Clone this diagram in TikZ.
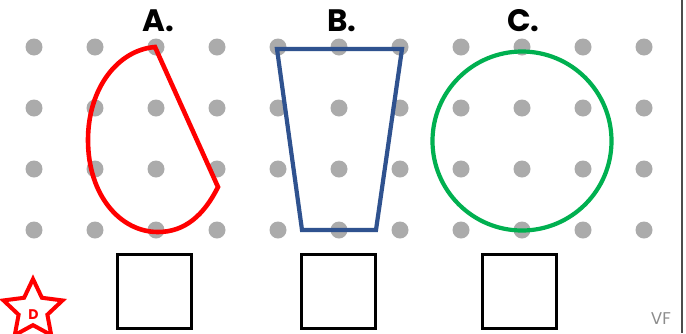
\documentclass[tikz,border=0pt]{standalone}
\usepackage{fontspec}
\newfontfamily\labfont{Poppins}
\usetikzlibrary{shapes.geometric}
\definecolor{dotgray}{RGB}{171,171,171}
\definecolor{ared}{RGB}{255,0,0}
\definecolor{bblue}{RGB}{47,82,143}
\definecolor{cgreen}{RGB}{0,176,80}
\definecolor{vfgray}{RGB}{140,140,140}
\tikzset{
  dot/.style={fill=dotgray},
  lab/.style={font=\labfont\bfseries\fontsize{31}{31}\selectfont, inner sep=0pt, anchor=base},
  ansbox/.style={draw=black, line width=3pt, minimum width=74pt, minimum height=74pt, inner sep=0pt},
}
\begin{document}
\begin{tikzpicture}[x=1pt,y=-1pt]
\useasboundingbox (0,0) rectangle (686,333);
\fill[white] (0,0) rectangle (686,333);
% dot grid
\foreach \i in {0,...,10}{
  \foreach \yy in {47,108,169,230}{
    \fill[dot] ({34+61*\i},\yy) circle (8.5);
  }
}
% labels
\node[lab] (labA) at (158.5,31) {A.};
\node[lab] (labB) at (342,31) {B.};
\node[lab] (labC) at (523.5,31) {C.};
% shape A
\draw[ared, line width=4.6pt] (155,47) -- (218,187)
  .. controls (204,215) and (185,232) .. (158,232)
  .. controls (120,232) and (88,195) .. (88,140)
  .. controls (88,88) and (118,50) .. (155,47) -- cycle;
% shape B
\draw[bblue, line width=4.2pt] (277,49) -- (402,49) -- (376,230) -- (302,230) -- cycle;
% shape C
\draw[cgreen, line width=4.2pt] (522,141) circle (89.5);
% answer boxes
\node[ansbox] (boxA) at (154.5,291.5) {};
\node[ansbox] (boxB) at (338.5,291.5) {};
\node[ansbox] (boxC) at (519.5,291.5) {};
% star
\node[star, star points=5, star point ratio=2.05, minimum size=62pt, inner sep=0pt, draw=ared, line width=4pt] (star) at (33,310) {};
\node[font=\labfont\bfseries\fontsize{14}{14}\selectfont, text=ared, inner sep=0pt, anchor=base] (dlab) at (33.5,319.5) {D};
% VF
\node[font=\labfont\fontsize{17}{17}\selectfont, text=vfgray, inner sep=0pt, anchor=base] (vf) at (661,324) {VF};
% right edge line
\draw[line width=1.4pt, black!70] (682,0) -- (682,333);
\end{tikzpicture}
\end{document}
